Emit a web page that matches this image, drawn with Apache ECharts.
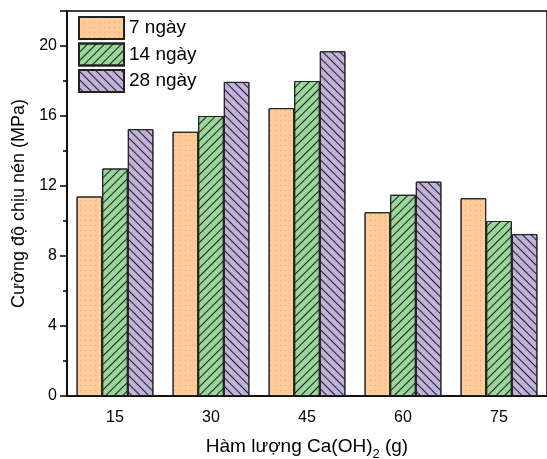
<!DOCTYPE html>
<html>
<head>
<meta charset="utf-8">
<script src="https://cdn.jsdelivr.net/npm/echarts@6/dist/echarts.min.js"></script>
<style>
  html, body { margin: 0; padding: 0; background: #fff; }
  #chart { width: 547px; height: 459px; }
</style>
</head>
<body>
<div id="chart"></div>
<script>
// hàm lượng Ca(OH)2 (g)
const categories = ["15", "30", "45", "60", "75"];
const day7 = [11.4, 15.1, 16.45, 10.5, 11.3];
const day14 = [13.0, 16.0, 18.0, 11.5, 10.0];
const day28 = [15.25, 17.95, 19.7, 12.25, 9.25];
const yTicks = [0, 4, 8, 12, 16, 20];

const font = "'Liberation Sans', Arial, sans-serif";

let series_data = [
  {
    name: "7 ngày", data: day7, color: "#FFCC99",
    decal: { symbol: "rect", symbolSize: 1, dashArrayX: [1, 4], dashArrayY: [1, 4], color: "rgba(225,130,100,0.55)" }
  },
  {
    name: "14 ngày", data: day14, color: "#99D699",
    decal: { symbol: "rect", symbolSize: 1, dashArrayX: [1, 0], dashArrayY: [1, 5], rotation: -Math.PI / 4, color: "#1a1a1a" }
  },
  {
    name: "28 ngày", data: day28, color: "#C2B2DB",
    decal: { symbol: "rect", symbolSize: 1, dashArrayX: [1, 0], dashArrayY: [1, 5], rotation: Math.PI / 4, color: "#1a1a1a" }
  }
].map(item => ({
  name: item.name,
  type: "bar",
  data: item.data,
  barGap: "0%",
  barCategoryGap: "20%",
  itemStyle: {
    color: item.color,
    borderColor: "#222",
    borderWidth: 1,
    decal: item.decal
  }
}));

let option = {
  backgroundColor: "#fff",
  animation: false,
  textStyle: { fontFamily: font },
  legend: {
    orient: "vertical",
    left: 73,
    top: 11,
    icon: "rect",
    itemWidth: 45,
    itemHeight: 22,
    itemGap: 2.5,
    textStyle: { color: "#000", fontSize: 19, fontFamily: font },
    data: series_data.map(s => s.name)
  },
  grid: {
    left: 67,
    top: 11,
    width: 480,
    height: 385,
    outerBoundsMode: "none",
    containLabel: false,
    show: true,
    borderColor: "#000",
    borderWidth: 1.5,
    backgroundColor: "transparent"
  },
  xAxis: [
    {
      type: "category",
      data: categories,
      name: "{n|Hàm lượng Ca(OH)}{sub|2}{n| (g)}",
      nameLocation: "middle",
      nameGap: 41,
      nameTextStyle: {
        color: "#000",
        rich: {
          n: { fontSize: 19, fontFamily: font, color: "#000", padding: [0, 0, 5, 0], verticalAlign: "bottom" },
          sub: { fontSize: 13, fontFamily: font, color: "#000", verticalAlign: "bottom" }
        }
      },
      axisLine: { lineStyle: { color: "#000", width: 1.5 } },
      axisTick: { alignWithLabel: true, length: 8, lineStyle: { color: "#000", width: 1.5 } },
      axisLabel: { color: "#000", fontSize: 16, margin: 14 }
    },
    {
      type: "category",
      data: categories,
      position: "bottom",
      axisLine: { show: false },
      axisLabel: { show: false },
      axisTick: { length: 4, lineStyle: { color: "#000", width: 1.5 } }
    }
  ],
  yAxis: {
    type: "value",
    min: 0,
    max: 22,
    interval: 4,
    name: "Cường độ chịu nén (MPa)",
    nameLocation: "middle",
    nameGap: 33,
    nameTextStyle: { color: "#000", fontSize: 18, fontFamily: font },
    axisLine: { show: true, lineStyle: { color: "#000", width: 1.5 } },
    axisTick: { show: true, length: 7, lineStyle: { color: "#000", width: 1.5 } },
    minorTick: { show: true, splitNumber: 2, length: 4, lineStyle: { color: "#000", width: 1.5 } },
    axisLabel: {
      color: "#000",
      fontSize: 16,
      margin: 10,
      formatter: v => (yTicks.indexOf(v) >= 0 ? String(v) : "")
    },
    splitLine: { show: false }
  },
  series: series_data
};

let chart = echarts.init(document.getElementById("chart"));
chart.setOption(option);
</script>
</body>
</html>
